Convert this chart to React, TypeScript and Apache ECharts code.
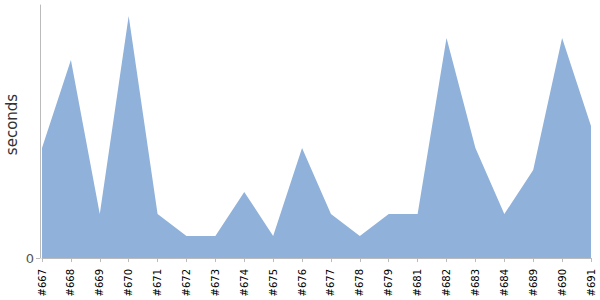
import React, { useEffect, useRef } from "react";
import * as echarts from "echarts";

const builds = ["#667", "#668", "#669", "#670", "#671", "#672", "#673", "#674", "#675", "#676", "#677", "#678", "#679", "#681", "#682", "#683", "#684", "#689", "#690", "#691"];
const seconds = [5, 9, 2, 11, 2, 1, 1, 3, 1, 5, 2, 1, 2, 2, 10, 5, 2, 4, 10, 6];
const yTickValues = [0];

export default function App() {
  const ref = useRef<HTMLDivElement>(null);
  useEffect(() => {
    if (!ref.current) return;
    const chart = echarts.init(ref.current, null, { renderer: "svg" });
    chart.setOption({
      animation: false,
      grid: { left: 42, right: 9, top: 5, bottom: 42, containLabel: false, outerBoundsMode: "none" },
      xAxis: {
        type: "category",
        data: builds,
        boundaryGap: false,
        offset: 5,
        axisLine: { lineStyle: { color: "#bbbbbb" } },
        axisTick: { alignWithLabel: true, length: 4, lineStyle: { color: "#bbbbbb" } },
        axisLabel: { rotate: 90, interval: 0, margin: 6, color: "#000", fontSize: 10, fontFamily: "DejaVu Sans" },
      },
      yAxis: {
        type: "value",
        min: 0,
        max: 11.5,
        offset: 2,
        name: "seconds",
        nameLocation: "middle",
        nameGap: 21,
        nameMoveOverlap: false,
        nameTextStyle: { fontSize: 15, color: "#333", fontFamily: "DejaVu Sans", padding: [0, 0, 0, 14] },
        splitLine: { show: false },
        axisLine: { show: true, lineStyle: { color: "#bbbbbb" } },
        axisTick: { show: true, length: 4, customValues: yTickValues, lineStyle: { color: "#bbbbbb" } },
        axisLabel: { customValues: yTickValues, color: "#555", fontSize: 13, margin: 6, fontFamily: "DejaVu Sans" },
      },
      series: [
        {
          type: "line",
          data: seconds,
          symbol: "none",
          lineStyle: { width: 0 },
          areaStyle: { color: "#8fb1da", opacity: 1 },
          itemStyle: { color: "#8fb1da" },
        },
      ],
    });
    return () => chart.dispose();
  }, []);
  return <div ref={ref} style={{ width: 600, height: 300, position: "absolute", left: 0, top: 0 }} />;
}
